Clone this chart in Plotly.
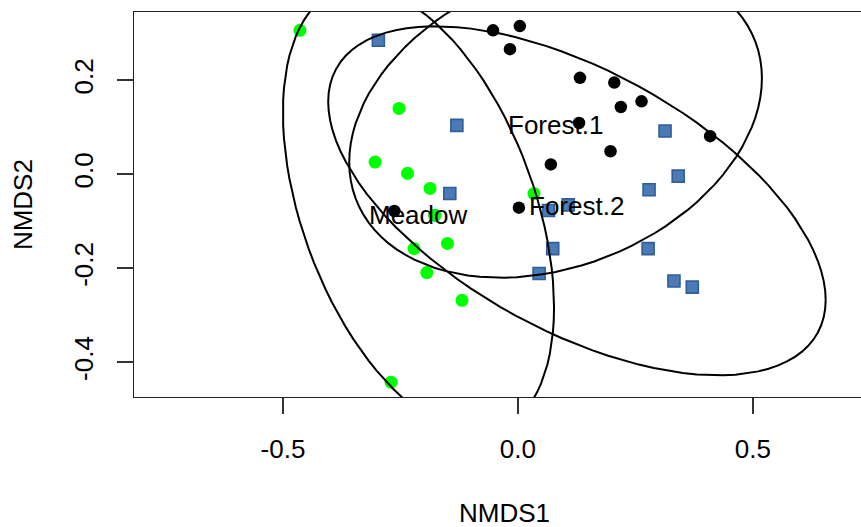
import numpy as np
import plotly.graph_objects as go

# ---- data (NMDS scores) ----
forest1_x = [-0.053, 0.004, -0.017, 0.132, 0.205, 0.263, 0.219, 0.409, 0.130, 0.197, 0.070, 0.002, -0.263, -0.177]
forest1_y = [0.306, 0.315, 0.266, 0.205, 0.195, 0.155, 0.143, 0.081, 0.109, 0.049, 0.021, -0.071, -0.078, -0.087]

forest2_x = [-0.297, -0.130, 0.313, -0.145, 0.065, 0.107, 0.074, 0.045, 0.279, 0.341, 0.277, 0.332, 0.371]
forest2_y = [0.285, 0.104, 0.092, -0.041, -0.077, -0.065, -0.158, -0.211, -0.033, -0.004, -0.158, -0.227, -0.240]

meadow_x = [-0.464, -0.253, -0.304, -0.235, -0.187, -0.177, -0.150, -0.221, -0.194, -0.119, 0.034, -0.270]
meadow_y = [0.306, 0.140, 0.026, 0.002, -0.030, -0.087, -0.147, -0.158, -0.209, -0.268, -0.041, -0.442]

group_names = ["Forest.1", "Forest.2", "Meadow"]

x_ticks = [-0.5, 0.0, 0.5]
x_ticktext = ["-0.5", "0.0", "0.5"]
y_ticks = [-0.4, -0.2, 0.0, 0.2]
y_ticktext = ["-0.4", "-0.2", "0.0", "0.2"]

FONT = "Liberation Sans, Arial, Helvetica, sans-serif"
FS = 26


def sd_ellipse(xs, ys, conf=0.95, npoints=100):
    X = np.column_stack([xs, ys])
    c = X.mean(axis=0)
    cov = np.cov(X.T, ddof=1)
    scale = np.sqrt(-2.0 * np.log(1.0 - conf))  # sqrt(qchisq(conf, 2))
    L = np.linalg.cholesky(cov)
    t = np.linspace(0, 2 * np.pi, npoints + 1)
    circ = np.column_stack([np.cos(t), np.sin(t)])
    pts = c + scale * circ @ L.T
    return pts[:, 0], pts[:, 1], c


fig = go.Figure()

fig.add_trace(go.Scatter(x=forest1_x, y=forest1_y, mode="markers",
                         marker=dict(symbol="circle", size=12.5, color="#000000"),
                         showlegend=False, hoverinfo="skip"))
fig.add_trace(go.Scatter(x=forest2_x, y=forest2_y, mode="markers",
                         marker=dict(symbol="square", size=12, color="#4a7bb7",
                                     line=dict(color="#2f5e98", width=1.6)),
                         showlegend=False, hoverinfo="skip"))
fig.add_trace(go.Scatter(x=meadow_x, y=meadow_y, mode="markers",
                         marker=dict(symbol="circle", size=13, color="#00ff00"),
                         showlegend=False, hoverinfo="skip"))

centres = []
for gx, gy in [(forest1_x, forest1_y), (forest2_x, forest2_y), (meadow_x, meadow_y)]:
    ex, ey, c = sd_ellipse(gx, gy)
    centres.append(c)
    fig.add_trace(go.Scatter(x=ex, y=ey, mode="lines",
                             line=dict(color="#000000", width=2),
                             showlegend=False, hoverinfo="skip"))

annotations = []
for name, c in zip(group_names, centres):
    annotations.append(dict(text=name, x=float(c[0]), y=float(c[1]), xref="x", yref="y",
                            xanchor="center", yanchor="middle", yshift=-5,
                            showarrow=False,
                            font=dict(family=FONT, size=FS, color="#000000")))

axis_common = dict(showgrid=False, zeroline=False, ticks="outside", ticklen=16,
                   tickwidth=1.5, tickcolor="#333333", showline=True,
                   linecolor="#222222", linewidth=1.3,
                   tickfont=dict(family=FONT, size=FS, color="#000000"))

annotations += [
    dict(text="NMDS1", xref="paper", yref="paper", x=0.510, y=-0.301,
         xanchor="center", yanchor="middle", showarrow=False,
         font=dict(family=FONT, size=FS, color="#000000")),
    dict(text="NMDS2", xref="paper", yref="paper", x=-0.1527, y=0.501,
         xanchor="center", yanchor="middle", showarrow=False, textangle=-90,
         font=dict(family=FONT, size=FS, color="#000000")),
]

fig.update_layout(
    width=861, height=527,
    margin=dict(l=134, r=0, t=12, b=130),
    paper_bgcolor="white", plot_bgcolor="white",
    xaxis=dict(range=[-0.817, 0.730], tickvals=x_ticks, ticktext=x_ticktext,
               mirror=True, ticklabelstandoff=13, **axis_common),
    yaxis=dict(range=[-0.4735, 0.345], tickvals=y_ticks, ticktext=y_ticktext,
               tickangle=-90, ticklabelstandoff=13, **axis_common),
    annotations=annotations,
)

fig.write_html("out.html")
